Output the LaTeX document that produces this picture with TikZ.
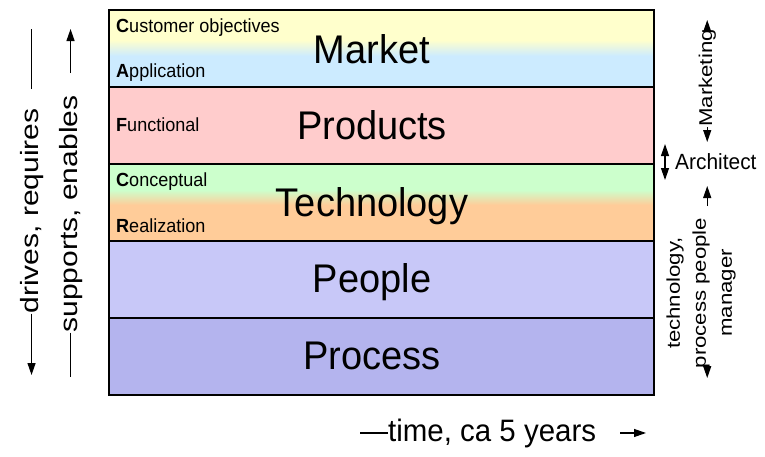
\documentclass[tikz,border=0pt]{standalone}
\usepackage{fontspec}
\setmainfont{Liberation Sans}[FakeStretch=0.95]
\newfontfamily\tallfont{Liberation Sans}[FakeStretch=1.2]
\usetikzlibrary{arrows.meta}
\tikzset{
    >={Triangle[length=12pt,width=8pt]} % Default arrow tip
}
\definecolor{marketTop}{RGB}{255,255,204}
\definecolor{marketBottom}{RGB}{204,235,255}
\definecolor{productsFill}{RGB}{255,204,204}
\definecolor{techTop}{RGB}{204,255,204}
\definecolor{techBottom}{RGB}{255,204,153}
\definecolor{peopleFill}{RGB}{200,200,248}
\definecolor{processFill}{RGB}{180,180,238}

\tikzstyle{layer}=[inner sep=0pt, anchor=base, font=\fontsize{40}{44}\selectfont]
\tikzstyle{aspect}=[inner sep=0pt, anchor=base west, font=\fontsize{19}{22}\selectfont]
\tikzstyle{sidetext}=[inner sep=0pt, rotate=90, font=\tallfont\fontsize{25}{28}\selectfont]
\tikzstyle{rolename}=[inner sep=0pt, font=\fontsize{22}{24}\selectfont]
\tikzstyle{guide}=[line width=1.2pt]

\begin{document}
\begin{tikzpicture}[x=1pt, y=-1pt]
    \useasboundingbox (0,0) rectangle (765,456);

    % layers, top to bottom
    \fill[marketTop] (109,10) rectangle (654,40);
    \shade[top color=marketTop, bottom color=marketBottom] (109,40) rectangle (654,56);
    \fill[marketBottom] (109,56) rectangle (654,87);
    \fill[productsFill] (109,87) rectangle (654,164);
    \fill[techTop] (109,164) rectangle (654,190);
    \shade[top color=techTop, bottom color=techBottom] (109,190) rectangle (654,205);
    \fill[techBottom] (109,205) rectangle (654,241);
    \fill[peopleFill] (109,241) rectangle (654,318);
    \fill[processFill] (109,318) rectangle (654,395);
    \foreach \y in {87,164,241,318}
        \draw[line width=2.2pt] (109,\y) -- (654,\y);
    \draw[line width=2.2pt] (109,10) rectangle (654,395);

    \node[layer] (market) at (372,63) {Market};
    \node[layer] (products) at (372,139) {Products};
    \node[layer] (technology) at (372,216) {Technology};
    \node[layer] (people) at (372,292) {People};
    \node[layer] (process) at (372,369) {Process};

    \node[aspect] (customer) at (116,32) {\textbf{C}ustomer objectives};
    \node[aspect] (application) at (116,77) {\textbf{A}pplication};
    \node[aspect] (functional) at (116,131) {\textbf{F}unctional};
    \node[aspect] (conceptual) at (116,186) {\textbf{C}onceptual};
    \node[aspect] (realization) at (116,232) {\textbf{R}ealization};

    % left side
    \node[sidetext, anchor=base] (drives) at (38,211) {drives, requires};
    \node[sidetext, anchor=base] (supports) at (77,214) {supports, enables};
    \draw[guide, ->] (drives.west) -- (drives.west |- 0,375);
    \draw[guide] (drives.east |- 0,89) -- (drives.east |- 0,29);
    \draw[guide, ->] (supports.east |- 0,73) -- (supports.east |- 0,29);
    \draw[guide] (supports.west) -- (supports.west |- 0,377);

    % right side
    \node[sidetext, anchor=base, font=\tallfont\fontsize{18.5}{20}\selectfont] (marketing) at (712,78) {Marketing};
    \draw[guide, ->] (marketing.east) -- (marketing.east |- 0,20);
    \draw[guide, ->] (marketing.west) -- (marketing.west |- 0,142);

    \node[rolename, anchor=west] (architect) at (675,162) {Architect};
    \draw[guide, <->] ([xshift=-10pt, yshift=18pt]architect.west) -- ([xshift=-10pt, yshift=-18pt]architect.west);

    \node[sidetext, align=center, font=\tallfont\fontsize{18.5}{26}\selectfont] (manager) at (701,293) {technology,\\process people\\manager};
    \draw[guide, ->] (marketing.west |- 0,206) -- (marketing.west |- 0,186);
    \draw[guide, ->] (marketing.west |- manager.west) -- (marketing.west |- 0,378);

    % bottom
    \node[inner sep=0pt, anchor=base west, font=\fontsize{31}{34}\selectfont] (time) at (388,441) {time, ca 5 years};
    \draw[guide] (time.west) -- (time.west -| 360,0);
    \draw[guide, ->] (time.east -| 620,0) -- (time.east -| 646,0);
\end{tikzpicture}
\end{document}
